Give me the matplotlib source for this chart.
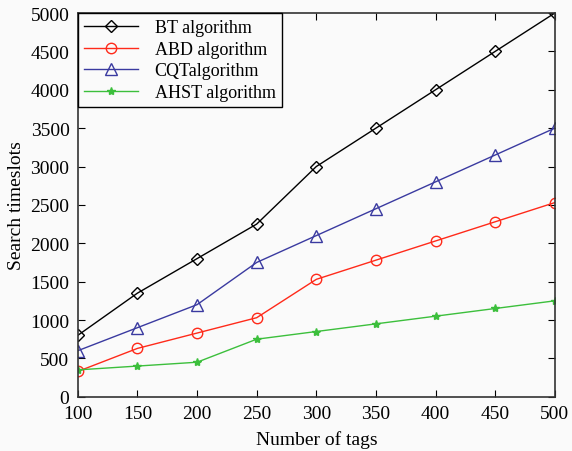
import matplotlib
matplotlib.use('Agg')
import matplotlib.pyplot as plt

# Data
tags = [100, 150, 200, 250, 300, 350, 400, 450, 500]
bt   = [800, 1350, 1800, 2250, 3000, 3500, 4000, 4500, 5000]
abd  = [330, 630, 830, 1030, 1530, 1780, 2030, 2280, 2530]
cqt  = [600, 900, 1200, 1750, 2100, 2450, 2800, 3150, 3500]
ahst = [350, 400, 450, 750, 850, 950, 1050, 1150, 1250]

plt.rcParams['font.family'] = ['Liberation Serif', 'DejaVu Serif']
plt.rcParams['mathtext.fontset'] = 'stix'

fig = plt.figure(figsize=(5.72, 4.52), dpi=100, facecolor='#fafafa')
ax = fig.add_axes([0.136, 0.12, 0.834, 0.849], facecolor='#fafafa')

ax.plot(tags, bt, color='black', lw=1, marker='D', ms=6, mfc='none', mec='black',
        mew=1, label='BT algorithm')
ax.plot(tags, abd, color='#ff2a1a', lw=1, marker='o', ms=7.5, mfc='none', mec='#ff2a1a',
        mew=1, label='ABD algorithm')
ax.plot(tags, cqt, color='#3a3aa0', lw=1, marker='^', ms=8, mfc='none', mec='#3a3aa0',
        mew=1, label='CQTalgorithm')
ax.plot(tags, ahst, color='#3cbf3c', lw=1, marker='*', ms=6, mfc='#3cbf3c', mec='#3cbf3c',
        label='AHST algorithm')

ax.set_xlim(100, 500)
ax.set_ylim(0, 5000)
ax.set_xticks(range(100, 501, 50))
ax.set_yticks(range(0, 5001, 500))
ax.tick_params(direction='in', top=True, right=True, labelsize=14, length=5, pad=6)
for s in ax.spines.values():
    s.set_linewidth(1.2)
    s.set_color('#333333')

ax.set_xlabel('Number of tags', fontsize=14, labelpad=6)
ax.set_ylabel('Search timeslots', fontsize=14, labelpad=4)

leg = ax.legend(loc='upper left', fontsize=13, fancybox=False, framealpha=1,
                edgecolor='black', borderaxespad=0, handlelength=3.0,
                borderpad=0.35, labelspacing=0.25, handletextpad=0.9,
                facecolor='#fafafa')
leg.get_frame().set_linewidth(1)

plt.savefig('out.png', dpi=100, facecolor=fig.get_facecolor())
